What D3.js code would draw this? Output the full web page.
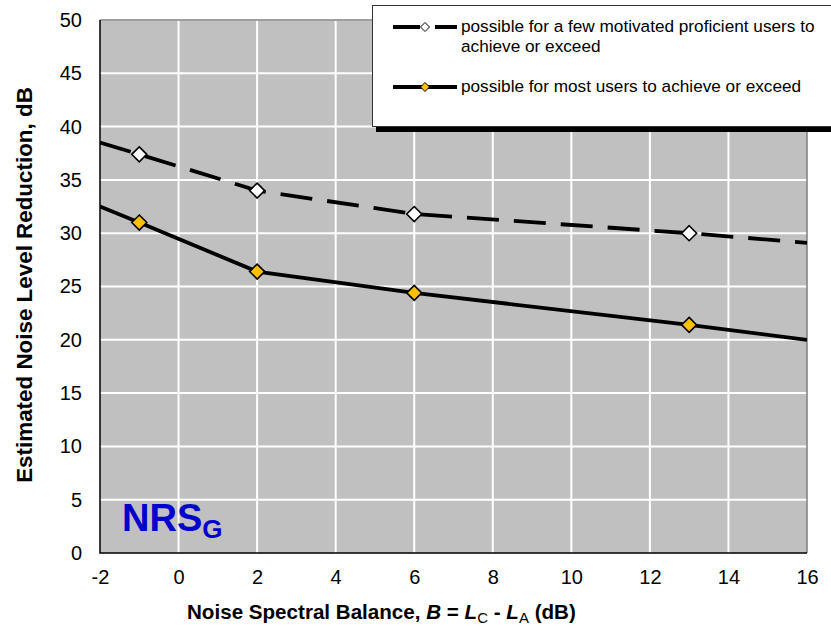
<!DOCTYPE html>
<html>
<head>
<meta charset="utf-8">
<script src="https://cdn.jsdelivr.net/npm/d3@7"></script>
<style>
  body { margin: 0; background: #fff; }
  text { font-family: "Liberation Sans", Arial, sans-serif; }
</style>
</head>
<body>
<svg id="chart" width="831" height="631"></svg>
<script>
// data; the ends at x=-2 and x=16 carry the line to the frame
var xTicks = [-2, 0, 2, 4, 6, 8, 10, 12, 14, 16];
var yTicks = [0, 5, 10, 15, 20, 25, 30, 35, 40, 45, 50];
var balance = [-2, -1, 2, 6, 13, 16];
var fewUsers = [38.5, 37.4, 34.0, 31.8, 30.0, 29.1];
var mostUsers = [32.5, 31.0, 26.4, 24.4, 21.4, 20.0];
var markerIdx = [1, 2, 3, 4];
var legendLabels = [
  ["possible for a few motivated proficient users to", "achieve or exceed"],
  ["possible for most users to achieve or exceed"]
];

var svg = d3.select("#chart");
var pLeft = 100, pRight = 807, pTop = 20, pBottom = 553;

var x = d3.scaleLinear().domain([-2, 16]).range([pLeft, pRight]);
var y = d3.scaleLinear().domain([0, 50]).range([pBottom, pTop]);

// plot area
svg.append("rect")
    .attr("x", pLeft).attr("y", pTop)
    .attr("width", pRight - pLeft).attr("height", pBottom - pTop)
    .attr("fill", "#c0c0c0");

// grid
svg.append("g").selectAll("line")
    .data(xTicks.slice(1, -1))
    .enter().append("line")
    .attr("x1", function(d) { return x(d); }).attr("x2", function(d) { return x(d); })
    .attr("y1", pTop).attr("y2", pBottom)
    .attr("stroke", "#fff").attr("stroke-width", 2);
svg.append("g").selectAll("line")
    .data(yTicks.slice(1))
    .enter().append("line")
    .attr("x1", pLeft).attr("x2", pRight)
    .attr("y1", function(d) { return y(d); }).attr("y2", function(d) { return y(d); })
    .attr("stroke", "#fff").attr("stroke-width", 2);

// frame: grey top/right, black axes
svg.append("path")
    .attr("d", "M" + pLeft + "," + pTop + "H" + pRight + "V" + pBottom)
    .attr("fill", "none").attr("stroke", "#7f7f7f").attr("stroke-width", 1.5);
svg.append("path")
    .attr("d", "M" + pLeft + "," + pTop + "V" + pBottom + "H" + pRight)
    .attr("fill", "none").attr("stroke", "#000").attr("stroke-width", 1.5);

// axes (labels only)
var fmt = function(d) { return String(d); };
var xAxis = svg.append("g")
    .attr("transform", "translate(0," + pBottom + ")")
    .call(d3.axisBottom(x).tickValues(xTicks).tickFormat(fmt).tickSize(0).tickPadding(17));
var yAxis = svg.append("g")
    .attr("transform", "translate(" + pLeft + ",0)")
    .call(d3.axisLeft(y).tickValues(yTicks).tickFormat(fmt).tickSize(0).tickPadding(18));
[xAxis, yAxis].forEach(function(a) {
    a.select(".domain").remove();
    a.selectAll("text")
        .attr("font-size", 20)
        .attr("font-family", "Liberation Sans, Arial, sans-serif")
        .attr("fill", "#000");
});

// series
svg.append("clipPath").attr("id", "plotclip")
    .append("rect")
    .attr("x", pLeft).attr("y", pTop)
    .attr("width", pRight - pLeft).attr("height", pBottom - pTop);

var line = d3.line()
    .x(function(d) { return x(d[0]); })
    .y(function(d) { return y(d[1]); });

var series = [
  { values: fewUsers, dash: "32,15", fill: "#fff" },
  { values: mostUsers, dash: null, fill: "#ffc000" }
];

var diamond = "M0,-7.5L7.5,0L0,7.5L-7.5,0Z";

series.forEach(function(s) {
    var pts = balance.map(function(b, i) { return [b, s.values[i]]; });
    svg.append("path")
        .datum(pts)
        .attr("clip-path", "url(#plotclip)")
        .attr("d", line)
        .attr("fill", "none")
        .attr("stroke", "#000")
        .attr("stroke-width", 3.8)
        .attr("stroke-dasharray", s.dash);
    svg.append("g").selectAll("path")
        .data(markerIdx.map(function(i) { return pts[i]; }))
        .enter().append("path")
        .attr("d", diamond)
        .attr("transform", function(d) { return "translate(" + x(d[0]) + "," + y(d[1]) + ")"; })
        .attr("fill", s.fill)
        .attr("stroke", "#000")
        .attr("stroke-width", 1.6);
});

// legend box with shadow
svg.append("rect")
    .attr("x", 376).attr("y", 10).attr("width", 470).attr("height", 122)
    .attr("fill", "#000");
svg.append("rect")
    .attr("x", 372.5).attr("y", 5.5).attr("width", 470).attr("height", 121)
    .attr("fill", "#fff").attr("stroke", "#333").attr("stroke-width", 1);

var lg = svg.append("g");
var legendY = [27, 87];
series.forEach(function(s, i) {
    var yy = legendY[i];
    lg.append("line")
        .attr("x1", 393).attr("x2", 457)
        .attr("y1", yy).attr("y2", yy)
        .attr("stroke", "#000").attr("stroke-width", 3.8)
        .attr("stroke-dasharray", s.dash ? "27,15" : null);
    lg.append("path")
        .attr("d", "M0,-4.5L4.5,0L0,4.5L-4.5,0Z")
        .attr("transform", "translate(425," + yy + ")")
        .attr("fill", s.fill).attr("stroke", "#000").attr("stroke-width", 1);
    var t = lg.append("text")
        .attr("x", 461).attr("y", yy + 5)
        .attr("font-size", 17.2).attr("fill", "#000");
    legendLabels[i].forEach(function(str, j) {
        t.append("tspan").attr("x", 461).attr("dy", j === 0 ? 0 : 20).text(str);
    });
});

// NRS_G tag
var tag = svg.append("text")
    .attr("x", 122).attr("y", 531)
    .attr("font-size", 38).attr("font-weight", "bold").attr("fill", "#0000cc");
tag.append("tspan").text("NRS");
tag.append("tspan").attr("font-size", 26).attr("dy", 7).text("G");

// axis titles
svg.append("text")
    .attr("transform", "translate(32,285) rotate(-90)")
    .attr("text-anchor", "middle")
    .attr("font-size", 22.4).attr("font-weight", "bold")
    .text("Estimated Noise Level Reduction, dB");

var xt = svg.append("text")
    .attr("x", 187).attr("y", 619)
    .attr("font-size", 20.6).attr("font-weight", "bold");
xt.append("tspan").text("Noise Spectral Balance, ");
xt.append("tspan").attr("font-style", "italic").text("B");
xt.append("tspan").text(" = ");
xt.append("tspan").attr("font-style", "italic").text("L");
xt.append("tspan").attr("font-size", 15).attr("font-weight", "normal").attr("dy", 4).text("C");
xt.append("tspan").attr("dy", -4).text(" - ");
xt.append("tspan").attr("font-style", "italic").text("L");
xt.append("tspan").attr("font-size", 15).attr("font-weight", "normal").attr("dy", 4).text("A");
xt.append("tspan").attr("dy", -4).text(" (dB)");
</script>
</body>
</html>
